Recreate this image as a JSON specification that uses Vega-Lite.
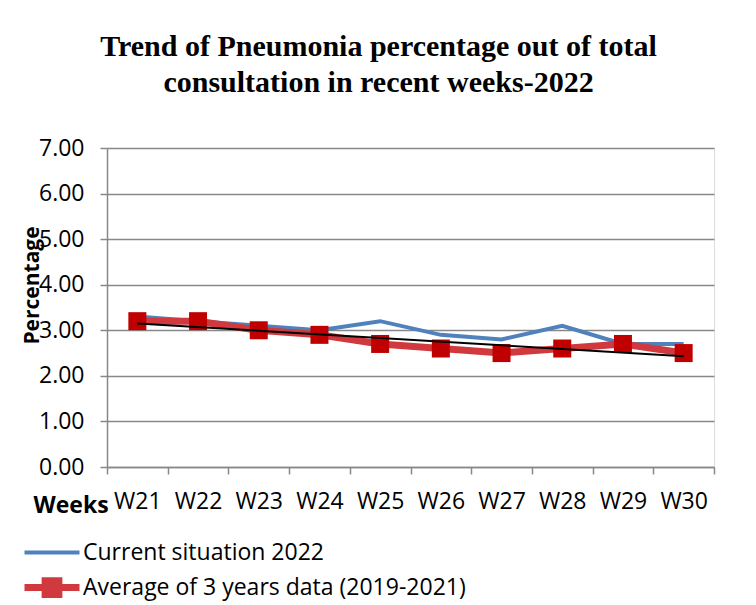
{
  "$schema": "https://vega.github.io/schema/vega-lite/v6.json",
  "width": 607,
  "height": 319,
  "autosize": {"type": "none"},
  "padding": {"left": 107, "top": 148, "right": 42, "bottom": 138},
  "background": "white",
  "title": {
    "text": ["Trend of Pneumonia percentage out of total", "consultation in recent weeks-2022"],
    "font": "Liberation Serif",
    "fontSize": 30,
    "fontWeight": "bold",
    "color": "black",
    "anchor": "middle",
    "frame": "group",
    "dx": -32,
    "offset": 39,
    "lineHeight": 36
  },
  "datasets": {
    "main": [
      {"week": "W21", "series": "Current situation 2022", "value": 3.3},
      {"week": "W22", "series": "Current situation 2022", "value": 3.2},
      {"week": "W23", "series": "Current situation 2022", "value": 3.1},
      {"week": "W24", "series": "Current situation 2022", "value": 3.0},
      {"week": "W25", "series": "Current situation 2022", "value": 3.2},
      {"week": "W26", "series": "Current situation 2022", "value": 2.9},
      {"week": "W27", "series": "Current situation 2022", "value": 2.8},
      {"week": "W28", "series": "Current situation 2022", "value": 3.1},
      {"week": "W29", "series": "Current situation 2022", "value": 2.7},
      {"week": "W30", "series": "Current situation 2022", "value": 2.7},
      {"week": "W21", "series": "Average of 3 years data (2019-2021)", "value": 3.2},
      {"week": "W22", "series": "Average of 3 years data (2019-2021)", "value": 3.2},
      {"week": "W23", "series": "Average of 3 years data (2019-2021)", "value": 3.0},
      {"week": "W24", "series": "Average of 3 years data (2019-2021)", "value": 2.9},
      {"week": "W25", "series": "Average of 3 years data (2019-2021)", "value": 2.7},
      {"week": "W26", "series": "Average of 3 years data (2019-2021)", "value": 2.6},
      {"week": "W27", "series": "Average of 3 years data (2019-2021)", "value": 2.5},
      {"week": "W28", "series": "Average of 3 years data (2019-2021)", "value": 2.6},
      {"week": "W29", "series": "Average of 3 years data (2019-2021)", "value": 2.7},
      {"week": "W30", "series": "Average of 3 years data (2019-2021)", "value": 2.5}
    ],
    "trend": [
      {"week": "W21", "trend": 3.15},
      {"week": "W30", "trend": 2.43}
    ]
  },
  "encoding": {
    "x": {
      "field": "week",
      "type": "ordinal",
      "sort": ["W21", "W22", "W23", "W24", "W25", "W26", "W27", "W28", "W29", "W30"],
      "scale": {"type": "band", "paddingInner": 0, "paddingOuter": 0, "domain": ["W21", "W22", "W23", "W24", "W25", "W26", "W27", "W28", "W29", "W30"]},
      "axis": {
        "title": "Weeks",
        "titleFont": "Open Sans",
        "titleFontSize": 23,
        "titleFontWeight": "bold",
        "titleColor": "black",
        "titleX": -74,
        "titleY": 45,
        "titleAlign": "left",
        "titleAnchor": null,
        "titleBaseline": "alphabetic",
        "labelAngle": 0,
        "labelFont": "Open Sans",
        "labelFontSize": 23,
        "labelColor": "black",
        "labelPadding": 16,
        "tickBand": "extent",
        "tickSize": 7,
        "tickColor": "#888888",
        "tickWidth": 1.5,
        "domainColor": "#888888",
        "domainWidth": 1.5,
        "grid": false
      }
    }
  },
  "layer": [
    {
      "data": {"name": "main"},
      "mark": {"type": "line", "strokeCap": "butt"},
      "encoding": {
        "y": {
          "field": "value",
          "type": "quantitative",
          "scale": {"domain": [0, 7]},
          "axis": {
            "values": [0, 1, 2, 3, 4, 5, 6, 7],
            "format": ".2f",
            "title": "Percentage",
            "titleFont": "Open Sans",
            "titleFontSize": 21,
            "titleFontWeight": "bold",
            "titleColor": "black",
            "titleX": -75,
            "titleY": 137,
            "titleAngle": 270,
            "titleAlign": "center",
            "titleBaseline": "middle",
            "labelFont": "Open Sans",
            "labelFontSize": 23,
            "labelColor": "black",
            "labelPadding": 16,
            "tickSize": 7,
            "tickColor": "#888888",
            "tickWidth": 1.5,
            "domainColor": "#888888",
            "domainWidth": 1.5,
            "gridColor": "#888888",
            "gridWidth": 1.5
          }
        },
        "color": {
          "field": "series",
          "type": "nominal",
          "scale": {
            "domain": ["Current situation 2022", "Average of 3 years data (2019-2021)"],
            "range": ["#4f81bd", "#d0393e"]
          },
          "legend": {
            "orient": "none",
            "legendX": -86,
            "legendY": 387,
            "title": null,
            "direction": "vertical",
            "symbolSize": 3025,
            "symbolStrokeWidth": 5,
            "clipHeight": 35,
            "rowPadding": 0,
            "labelFont": "Open Sans",
            "labelFontSize": 23,
            "labelColor": "black",
            "labelOffset": 0,
            "labelLimit": 600,
            "encode": {
              "symbols": {
                "update": {
                  "shape": {"signal": "datum.value === 'Current situation 2022' ? 'M-1,0H1' : 'M-1,0H1M-0.25,-0.25H0.25V0.25H-0.25Z'"},
                  "fill": {"signal": "datum.value === 'Current situation 2022' ? 'transparent' : '#c00000'"}
                }
              }
            }
          }
        },
        "strokeWidth": {
          "field": "series",
          "type": "nominal",
          "scale": {
            "domain": ["Current situation 2022", "Average of 3 years data (2019-2021)"],
            "range": [4, 7]
          },
          "legend": null
        },
        "order": {"field": "series", "sort": "descending"}
      }
    },
    {
      "data": {"name": "main"},
      "transform": [{"filter": "datum.series === 'Average of 3 years data (2019-2021)'"}],
      "mark": {"type": "square", "size": 324, "color": "#c00000", "opacity": 1},
      "encoding": {
        "y": {"field": "value", "type": "quantitative"}
      }
    },
    {
      "data": {"name": "trend"},
      "mark": {"type": "line", "color": "black", "strokeWidth": 2},
      "encoding": {
        "y": {"field": "trend", "type": "quantitative"}
      }
    }
  ]
}
